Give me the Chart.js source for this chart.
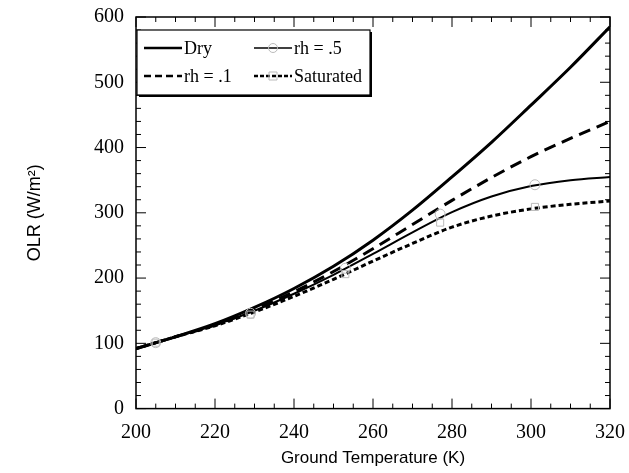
<!DOCTYPE html>
<html>
<head>
<script src="https://cdn.jsdelivr.net/npm/chart.js@4"></script>
<style>
  body { margin: 0; background: #fff; }
  #wrap { width: 629px; height: 473px; }
</style>
</head>
<body>
<div id="wrap"><canvas id="grafico"></canvas></div>
<script>
const temps = [200, 210, 220, 230, 240, 250, 260, 270, 280, 290, 300, 310, 320];
const dry = [92, 110, 130, 155, 184, 218, 258, 304, 355, 408, 465, 523, 585];
const rh01 = [92, 110, 128, 152, 179, 210, 245, 282, 319, 354, 386, 414, 440];
const rh05 = [92, 110, 128, 150, 176, 205, 237, 270, 301, 325, 341, 350, 355];
const saturated = [92, 110, 127, 148, 172, 198, 226, 253, 278, 295, 306, 313, 318];
const markerTemps = [205, 229, 253, 277, 301];
const rh05Markers = [101, 146, 215, 298, 343];
const satMarkers = [101, 144, 206, 285, 309];

const pts = (xs, ys) => xs.map((x, i) => ({ x: x, y: ys[i] }));
const FONT = "'Liberation Serif', 'Times New Roman', serif";
const SANS = "'Liberation Sans', Arial, sans-serif";

function line(data, width, dash) {
  return { data: pts(temps, data), showLine: true, borderColor: "#000", borderWidth: width, borderDash: dash,
    pointRadius: 0, cubicInterpolationMode: "monotone", fill: false };
}
function marks(data, style) {
  return { data: pts(markerTemps, data), showLine: false, pointStyle: style, pointRadius: 5,
    pointBorderColor: "#bbb", pointBackgroundColor: "rgba(0,0,0,0)", pointBorderWidth: 1 };
}

const ticksAndLegend = {
  id: "ticksAndLegend",
  afterDraw(chart) {
    const ctx = chart.ctx, a = chart.chartArea, x = chart.scales.x, y = chart.scales.y;
    ctx.save();
    ctx.strokeStyle = "#000";
    ctx.lineWidth = 1;
    ctx.beginPath();
    for (let t = 200; t <= 320; t += 5) {
      const px = x.getPixelForValue(t), len = t % 20 === 0 ? 10 : 5;
      ctx.moveTo(px, a.bottom); ctx.lineTo(px, a.bottom - len);
      ctx.moveTo(px, a.top); ctx.lineTo(px, a.top + len);
    }
    for (let v = 0; v <= 600; v += 20) {
      const py = y.getPixelForValue(v), len = v % 100 === 0 ? 10 : 5;
      ctx.moveTo(a.left, py); ctx.lineTo(a.left + len, py);
      ctx.moveTo(a.right, py); ctx.lineTo(a.right - len, py);
    }
    ctx.stroke();
    ctx.lineWidth = 1.5;
    ctx.strokeRect(a.left, a.top, a.right - a.left, a.bottom - a.top);

    // legend box with shadow
    const bx = 137, by = 30, bw = 233, bh = 65;
    ctx.fillStyle = "#000";
    ctx.fillRect(bx + 2, by + 2, bw, bh);
    ctx.fillStyle = "#fff";
    ctx.fillRect(bx, by, bw, bh);
    ctx.lineWidth = 1.2;
    ctx.strokeRect(bx, by, bw, bh);
    ctx.font = "18px " + FONT;
    ctx.fillStyle = "#000";
    ctx.textBaseline = "middle";
    const items = [
      ["Dry", bx + 7, by + 18, 2.5, [], null],
      ["rh = .5", bx + 117, by + 18, 1.5, [], "circle"],
      ["rh = .1", bx + 7, by + 46, 2.5, [7, 4], null],
      ["Saturated", bx + 117, by + 46, 2.5, [4, 2], "rect"]
    ];
    items.forEach(([label, lx, ly, w, dash, mk]) => {
      ctx.lineWidth = w; ctx.setLineDash(dash); ctx.strokeStyle = "#000";
      ctx.beginPath(); ctx.moveTo(lx, ly); ctx.lineTo(lx + 38, ly); ctx.stroke();
      ctx.setLineDash([]);
      if (mk) {
        ctx.strokeStyle = "#bbb"; ctx.lineWidth = 1;
        ctx.beginPath();
        if (mk === "circle") ctx.arc(lx + 19, ly, 4.5, 0, Math.PI * 2);
        else ctx.rect(lx + 15, ly - 4, 8, 8);
        ctx.stroke();
      }
      ctx.fillText(label, lx + 40, ly + 1);
    });
    ctx.restore();
  }
};

new Chart(document.getElementById("grafico"), {
  type: "scatter",
  data: {
    datasets: [
      marks(rh05Markers, "circle"),
      marks(satMarkers, "rect"),
      line(dry, 3, []),
      line(rh01, 3, [12, 7]),
      line(rh05, 2, []),
      line(saturated, 3, [5, 3])
    ]
  },
  options: {
    responsive: true,
    maintainAspectRatio: false,
    animation: false,
    layout: { padding: { top: 17, right: 1, left: 24 } },
    plugins: { legend: { display: false }, tooltip: { enabled: false } },
    scales: {
      x: {
        type: "linear", min: 200, max: 320,
        grid: { display: false }, border: { display: false },
        ticks: { stepSize: 20, color: "#000", font: { family: FONT, size: 20 }, padding: 4 },
        title: { display: true, text: "Ground Temperature (K)", color: "#000",
          font: { family: SANS, size: 17 }, padding: { top: 0 } }
      },
      y: {
        min: 0, max: 600, afterFit(s) { s.width = 112; },
        grid: { display: false }, border: { display: false },
        ticks: { stepSize: 100, color: "#000", font: { family: FONT, size: 20 }, padding: 4 },
        title: { display: true, text: "OLR (W/m²)", color: "#000",
          font: { family: SANS, size: 18 }, padding: 0 }
      }
    }
  },
  plugins: [ticksAndLegend]
});
</script>
</body>
</html>
